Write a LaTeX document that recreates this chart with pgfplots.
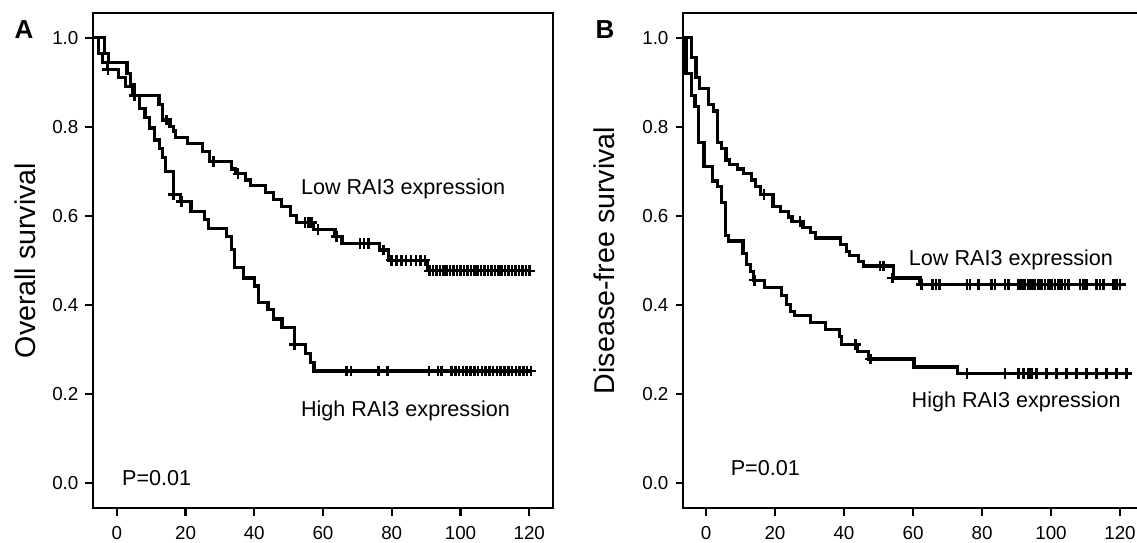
\documentclass[border=0pt]{standalone}
\usepackage{fontspec}
\setmainfont{Liberation Sans}
\usepackage{pgfplots}
\pgfplotsset{compat=1.18}

\pgfplotsset{
  kmaxis/.style={
    scale only axis, width=230.3pt, height=247.8pt,
    ymin=-0.0575, ymax=1.056,
    xtick={0,20,40,60,80,100,120}, ytick={0,0.2,0.4,0.6,0.8,1},
    xtick pos=left, ytick pos=left, tick align=outside,
    major tick length=3.6pt,
    axis line style={line width=1.1pt},
    every tick/.style={black, line width=1.1pt},
    tick label style={font=\fontsize{9.4}{11}\selectfont},
    /pgf/number format/assume math mode=true,
    yticklabel style={/pgf/number format/.cd, fixed, fixed zerofill, precision=1},
    xticklabel style={yshift=-1.9pt},
    label style={font=\fontsize{14.3}{16}\selectfont},
    clip=false,
  },
  km/.style={const plot, black, line width=1.6pt},
  cens/.style={only marks, black, mark=+, mark size=2.7pt, mark options={line width=1.3pt}},
}
\tikzset{txt/.style={font=\fontsize{10.8}{12}\selectfont, anchor=center}}

\begin{document}
\begin{tikzpicture}
\useasboundingbox (0,0) rectangle (568.5pt,271pt);

% panel A
\begin{axis}[kmaxis, at={(46.35pt,16.85pt)}, anchor=south west,
  xmin=-7, xmax=127,
  ylabel={Overall survival},
  ylabel style={at={(axis description cs:-0.147,0.5)}, anchor=center}]
% low expression
\addplot[km] coordinates {(-7,1.0) (-3.6,0.965) (-2.5,0.945) (3,0.92) (4,0.895) (5,0.87)
  (12.3,0.85) (13.2,0.815) (15.5,0.80) (16.5,0.79) (17,0.776) (20.5,0.763) (25,0.744)
  (27,0.722) (33.4,0.705) (34.5,0.694) (37.5,0.68) (39,0.668) (43.3,0.652) (45.7,0.636)
  (48,0.62) (50.5,0.60) (52.4,0.585) (57.2,0.568) (63.5,0.553) (65.5,0.538) (76.5,0.523)
  (79,0.50) (90.5,0.476) (120.5,0.476)};
% high expression
\addplot[km] coordinates {(-7,1.0) (-5.3,0.964) (-4.2,0.945) (-2.8,0.928) (0.5,0.91)
  (2.5,0.89) (4.5,0.87) (6.7,0.84) (8.2,0.82) (9.5,0.797) (11,0.77) (12.5,0.75) (13.2,0.73)
  (14.1,0.699) (16.5,0.647) (18.6,0.632) (21.6,0.61) (25.5,0.591) (26.8,0.572) (31.9,0.554)
  (33.3,0.524) (34.2,0.483) (36.9,0.46) (40.1,0.442) (41.2,0.404) (44,0.39) (45.5,0.368)
  (48.1,0.349) (51.7,0.31) (54.8,0.29) (56.4,0.27) (57.4,0.251) (120.5,0.251)};
\addplot[cens] coordinates {(-2.6,0.928) (5.2,0.87) (14.5,0.815) (28.2,0.722) (35.3,0.694)
  (54.8,0.585) (55.7,0.585) (56.7,0.585) (58.6,0.568) (64,0.553) (70.8,0.538) (71.9,0.538)
  (73.2,0.538) (77.6,0.523) (80,0.5) (81.4,0.5) (82.8,0.5) (84.2,0.5) (85.6,0.5) (87,0.5)
  (88.4,0.5) (89.7,0.5)
  (91,0.476) (92,0.476) (93,0.476) (94,0.476) (95,0.476) (96,0.476) (97,0.476) (98,0.476)
  (99,0.476) (100,0.476) (101,0.476) (102,0.476) (103,0.476) (104,0.476) (105,0.476)
  (106,0.476) (107,0.476) (108,0.476) (109,0.476) (110,0.476) (111,0.476) (112,0.476)
  (113,0.476) (114,0.476) (115,0.476) (116,0.476) (117,0.476) (118,0.476) (119,0.476)
  (120,0.476)};
\addplot[cens] coordinates {(16.5,0.647) (18.8,0.632) (51.7,0.31) (66.9,0.251) (68.1,0.251)
  (76.1,0.251) (78.7,0.251) (90.8,0.251) (93.5,0.251) (94.5,0.251) (97.4,0.251) (98.5,0.251)
  (99.6,0.251) (100.7,0.251) (101.8,0.251) (102.9,0.251) (104,0.251) (105.1,0.251)
  (106.2,0.251) (107.3,0.251) (108.4,0.251) (109.5,0.251) (110.6,0.251) (111.7,0.251)
  (112.8,0.251) (113.9,0.251) (115,0.251) (116.1,0.251) (117.2,0.251) (118.3,0.251)
  (119.4,0.251) (120.5,0.251)};
\node[txt] at (axis cs:83.3,0.659) {Low RAI3 expression};
\node[txt] at (axis cs:84.0,0.161) {High RAI3 expression};
\node[txt] at (axis cs:11.6,0.0106) {P=0.01};
\end{axis}

% panel B
\begin{axis}[kmaxis, at={(341.35pt,16.85pt)}, anchor=south west,
  xmin=-6.75, xmax=126.75,
  ylabel={Disease-free survival},
  ylabel style={at={(axis description cs:-0.170,0.5)}, anchor=center}]
% low expression
\addplot[km] coordinates {(-6.6,1.0) (-4.2,0.955) (-2.9,0.91) (-1.9,0.885) (0.7,0.85)
  (2.1,0.835) (3.4,0.765) (4.6,0.75) (5.8,0.725) (6.9,0.715) (9.1,0.705) (10.9,0.695)
  (13.3,0.68) (14.4,0.665) (15.7,0.648) (19.4,0.62) (21.7,0.61) (23.9,0.597) (24.9,0.587)
  (28.1,0.573) (30.2,0.563) (31.7,0.55) (38.9,0.536) (40.7,0.52) (41.7,0.51) (44.3,0.497)
  (45.6,0.487) (54.3,0.46) (62,0.446) (121.6,0.446)};
% high expression
\addplot[km] coordinates {(-6.6,1.0) (-5.8,0.92) (-4.3,0.87) (-3.2,0.845) (-2.1,0.765)
  (-0.6,0.71) (2.0,0.678) (3.4,0.665) (4.4,0.63) (5.7,0.555) (6.5,0.543) (10.7,0.515)
  (11.8,0.49) (12.8,0.475) (13.8,0.455) (17,0.438) (21.8,0.42) (23.4,0.4) (24.4,0.385)
  (25.6,0.375) (30.2,0.36) (34.7,0.345) (38.6,0.328) (39.3,0.31) (43.8,0.295) (47,0.278)
  (60.3,0.26) (72.9,0.245) (122.6,0.245)};
\addplot[cens] coordinates {(16.8,0.648) (27.2,0.587) (50.4,0.487) (51.5,0.487) (54.1,0.46)
  (62.5,0.446) (65.7,0.446) (66.7,0.446) (67.6,0.446) (75.6,0.446) (76.5,0.446) (78.9,0.446)
  (82.8,0.446) (83.8,0.446) (86.7,0.446) (87.6,0.446) (90.5,0.446) (91.5,0.446) (92.4,0.446)
  (93.4,0.446) (94.4,0.446) (95.3,0.446) (96.3,0.446) (97.3,0.446) (98.3,0.446) (99.2,0.446)
  (100.2,0.446) (101.2,0.446) (102.1,0.446) (103.1,0.446) (104.1,0.446) (105,0.446)
  (108.4,0.446) (109.4,0.446) (110.3,0.446) (113.2,0.446) (114.2,0.446) (115.2,0.446)
  (118.1,0.446) (119,0.446) (120,0.446)};
\addplot[cens] coordinates {(14.1,0.455) (43.3,0.31) (47.7,0.278) (75.6,0.245) (86.7,0.245)
  (90.5,0.245) (92,0.245) (93.4,0.245) (94.4,0.245) (95.8,0.245) (98.7,0.245) (101.6,0.245)
  (104.5,0.245) (107.4,0.245) (110.3,0.245) (113.2,0.245) (116.1,0.245) (119,0.245)
  (121.9,0.245)};
\node[txt] at (axis cs:88.4,0.5003) {Low RAI3 expression};
\node[txt] at (axis cs:89.9,0.181) {High RAI3 expression};
\node[txt] at (axis cs:17.2,0.033) {P=0.01};
\end{axis}

\node[font=\fontsize{13}{15}\selectfont\bfseries] at (12pt,256.35pt) {A};
\node[font=\fontsize{13}{15}\selectfont\bfseries] at (302.5pt,256.35pt) {B};
\end{tikzpicture}
\end{document}
